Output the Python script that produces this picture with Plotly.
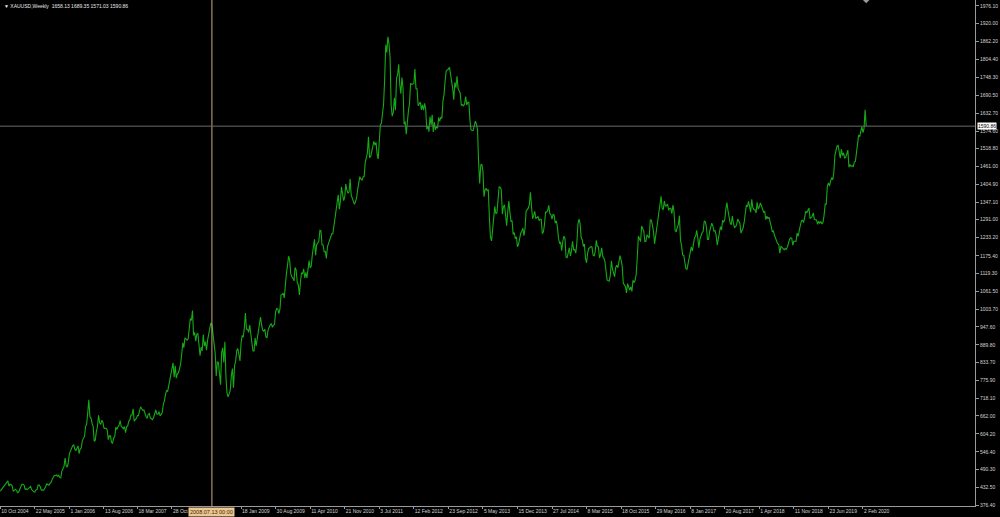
import pandas as pd
import plotly.graph_objects as go

# ---------------- data: weekly closes XAUUSD (bar dates are Sundays) ----------------
close_2004 = [421, 426, 429, 434, 438, 442, 450, 454, 437, 443, 442, 438]
close_2005 = [420, 423, 427, 423, 416, 418, 427, 435, 443, 443, 440, 427, 428,
              426, 429, 435, 436, 426, 421, 419, 418, 425, 426, 440, 440, 435,
              424, 423, 424, 428, 437, 444, 442, 440, 445, 449, 458, 468, 471,
              471, 473, 468, 472, 465, 463, 485, 496, 500, 527, 502, 498, 513]
close_2006 = [541, 550, 560, 566, 570, 555, 551, 557, 566, 541, 556, 559, 583,
              590, 597, 628, 636, 673, 714, 659, 655, 638, 628, 580, 585, 613,
              628, 664, 640, 635, 648, 642, 623, 622, 622, 618, 586, 598, 598,
              577, 575, 591, 596, 626, 618, 627, 632, 647, 628, 625, 621, 628, 608]
close_2007 = [627, 630, 645, 650, 665, 665, 685, 645, 650, 654, 663, 663, 679,
              691, 685, 680, 681, 666, 660, 654, 667, 670, 655, 653, 650, 657,
              666, 681, 668, 667, 676, 662, 667, 673, 700, 710, 732, 743, 741,
              759, 766, 788, 807, 832, 786, 823, 783, 797, 800, 811, 829, 859]
close_2008 = [896, 881, 912, 909, 905, 909, 945, 974, 968, 1000, 920, 930, 902,
              924, 926, 890, 855, 882, 871, 923, 886, 900, 873, 905, 925, 934,
              960, 955, 926, 911, 864, 790, 835, 833, 800, 762, 865, 880, 833,
              900, 786, 735, 723, 736, 744, 792, 814, 752, 823, 838, 872, 878]
close_2009 = [855, 838, 895, 920, 914, 942, 992, 940, 940, 930, 953, 925, 898,
              870, 870, 912, 886, 914, 929, 958, 979, 954, 937, 934, 940, 915,
              912, 937, 950, 954, 958, 946, 953, 955, 996, 1006, 1004, 990, 1004,
              1050, 1051, 1056, 1040, 1095, 1118, 1144, 1174, 1162, 1118, 1108, 1104, 1095]
close_2010 = [1138, 1130, 1091, 1082, 1050, 1092, 1120, 1118, 1133, 1104, 1122, 1104, 1125,
              1160, 1136, 1142, 1179, 1210, 1228, 1177, 1211, 1216, 1222, 1257, 1255, 1210,
              1210, 1188, 1189, 1167, 1204, 1215, 1227, 1235, 1246, 1246, 1275, 1296, 1318,
              1346, 1371, 1325, 1350, 1396, 1367, 1352, 1363, 1405, 1386, 1376, 1380, 1421]
close_2011 = [1370, 1360, 1344, 1340, 1349, 1361, 1388, 1410, 1429, 1421, 1418, 1428, 1429,
              1474, 1486, 1505, 1557, 1491, 1493, 1511, 1536, 1542, 1530, 1539, 1501, 1486,
              1542, 1594, 1601, 1626, 1662, 1742, 1852, 1827, 1877, 1856, 1813, 1658, 1623,
              1635, 1682, 1642, 1745, 1756, 1789, 1724, 1695, 1747, 1713, 1597, 1606, 1565]
close_2012 = [1617, 1640, 1663, 1728, 1725, 1725, 1727, 1774, 1711, 1711, 1656, 1662, 1668,
              1643, 1659, 1642, 1664, 1645, 1581, 1592, 1573, 1622, 1594, 1627, 1572, 1604,
              1579, 1590, 1584, 1619, 1606, 1620, 1616, 1672, 1692, 1737, 1768, 1772, 1773,
              1780, 1758, 1724, 1712, 1676, 1731, 1714, 1751, 1712, 1705, 1696, 1657, 1660, 1656]
close_2013 = [1662, 1686, 1659, 1667, 1667, 1610, 1579, 1577, 1577, 1592, 1607, 1597, 1580,
              1476, 1407, 1466, 1469, 1447, 1365, 1387, 1392, 1383, 1388, 1297, 1234, 1223,
              1278, 1296, 1334, 1310, 1313, 1371, 1396, 1395, 1387, 1309, 1333, 1339, 1310,
              1272, 1316, 1351, 1315, 1285, 1288, 1244, 1250, 1230, 1236, 1204, 1212, 1237]
close_2014 = [1248, 1254, 1264, 1240, 1262, 1318, 1324, 1328, 1339, 1379, 1335, 1294, 1304,
              1318, 1294, 1300, 1302, 1288, 1293, 1292, 1246, 1252, 1275, 1315, 1316, 1320,
              1337, 1310, 1307, 1293, 1309, 1305, 1280, 1287, 1268, 1231, 1216, 1218, 1192,
              1222, 1238, 1231, 1171, 1169, 1185, 1201, 1175, 1191, 1222, 1195, 1195, 1184]
close_2015 = [1216, 1277, 1293, 1279, 1234, 1227, 1205, 1213, 1167, 1153, 1184, 1199, 1201,
              1205, 1204, 1178, 1174, 1189, 1225, 1205, 1204, 1168, 1180, 1201, 1173, 1168,
              1157, 1131, 1098, 1095, 1094, 1113, 1159, 1133, 1121, 1108, 1138, 1145, 1137,
              1156, 1176, 1162, 1142, 1088, 1081, 1076, 1056, 1086, 1075, 1065, 1076, 1061]
close_2016 = [1097, 1090, 1097, 1117, 1173, 1238, 1230, 1221, 1271, 1259, 1254, 1221, 1222,
              1243, 1235, 1232, 1290, 1290, 1273, 1253, 1213, 1243, 1275, 1297, 1315, 1340,
              1366, 1327, 1323, 1351, 1335, 1336, 1341, 1321, 1327, 1328, 1310, 1338, 1316,
              1257, 1252, 1266, 1276, 1304, 1225, 1208, 1178, 1177, 1160, 1134, 1132, 1151]
close_2017 = [1173, 1197, 1204, 1190, 1220, 1234, 1237, 1257, 1234, 1201, 1229, 1244, 1249,
              1254, 1287, 1284, 1268, 1228, 1227, 1254, 1267, 1280, 1271, 1254, 1256, 1242,
              1209, 1228, 1254, 1269, 1258, 1289, 1284, 1291, 1325, 1346, 1320, 1297, 1280,
              1275, 1303, 1280, 1266, 1269, 1275, 1293, 1287, 1280, 1248, 1256, 1265, 1283, 1322]
close_2018 = [1338, 1333, 1350, 1333, 1315, 1356, 1330, 1323, 1323, 1313, 1347, 1325, 1332,
              1345, 1336, 1323, 1315, 1318, 1291, 1302, 1294, 1299, 1278, 1270, 1252, 1256,
              1241, 1231, 1223, 1214, 1212, 1184, 1206, 1201, 1197, 1194, 1199, 1196, 1203,
              1218, 1228, 1233, 1232, 1209, 1222, 1222, 1222, 1248, 1238, 1257, 1279, 1287]
close_2019 = [1289, 1282, 1298, 1318, 1313, 1322, 1328, 1294, 1298, 1302, 1313, 1292, 1291,
              1290, 1276, 1286, 1280, 1285, 1277, 1283, 1305, 1341, 1341, 1399, 1409, 1399,
              1415, 1426, 1419, 1440, 1497, 1513, 1527, 1529, 1507, 1488, 1517, 1497, 1505,
              1489, 1490, 1505, 1514, 1459, 1468, 1462, 1464, 1460, 1476, 1478, 1510, 1552]
close_2020 = [1562, 1557, 1571, 1589, 1570, 1584, 1643, 1590.86]

first_bar = {2004: "2004-10-10", 2005: "2005-01-02", 2006: "2006-01-01", 2007: "2007-01-07",
             2008: "2008-01-06", 2009: "2009-01-04", 2010: "2010-01-03", 2011: "2011-01-02",
             2012: "2012-01-01", 2013: "2013-01-06", 2014: "2014-01-05", 2015: "2015-01-04",
             2016: "2016-01-03", 2017: "2017-01-01", 2018: "2018-01-07", 2019: "2019-01-06",
             2020: "2020-01-05"}
closes = {2004: close_2004, 2005: close_2005, 2006: close_2006, 2007: close_2007,
          2008: close_2008, 2009: close_2009, 2010: close_2010, 2011: close_2011,
          2012: close_2012, 2013: close_2013, 2014: close_2014, 2015: close_2015,
          2016: close_2016, 2017: close_2017, 2018: close_2018, 2019: close_2019,
          2020: close_2020}

# axis labels (the 8 Jun 2008 label is hidden under the crosshair box in the reference)
x_tick_dates = ["2004-10-10", "2005-05-22", "2006-01-01", "2006-08-13", "2007-03-18",
                "2007-10-28", "2009-01-18", "2009-08-30", "2010-04-11",
                "2010-11-21", "2011-07-03", "2012-02-12", "2012-09-23", "2013-05-05",
                "2013-12-15", "2014-07-27", "2015-03-08", "2015-10-18", "2016-05-29",
                "2017-01-08", "2017-08-20", "2018-04-01", "2018-11-11", "2019-06-23",
                "2020-02-02"]
y_tick_values = [1976.10, 1920.00, 1862.20, 1804.40, 1748.30, 1690.50, 1632.70, 1574.60,
                 1518.80, 1461.00, 1404.90, 1347.10, 1291.00, 1233.20, 1175.40, 1119.30,
                 1061.50, 1003.70, 947.60, 889.80, 833.70, 775.90, 718.10, 662.00, 604.20,
                 546.40, 490.30, 432.50, 376.40]
last_ohlc = [1658.13, 1689.35, 1571.03, 1590.86]
symbol = "XAUUSD,Weekly"
crosshair_time = "2008-07-13"

# ---------------- build series ----------------
dates, values = [], []
for yr in sorted(closes):
    vals = closes[yr]
    d = pd.date_range(first_bar[yr], periods=len(vals), freq="7D")
    dates.extend(d)
    values.extend(vals)

start = pd.Timestamp("2004-10-10")
x_end = start + pd.Timedelta(days=7 * 975 / 1.08)
y_lo, y_hi = 373.2, 1995.3

font_fam = "Liberation Sans, DejaVu Sans, sans-serif"
txt_col = "#d4d4d4"
fs = 5

fig = go.Figure()
fig.add_trace(go.Scatter(x=dates, y=values, mode="lines",
                         line=dict(color="#16aa16", width=1.1),
                         hoverinfo="skip", showlegend=False))

tick_text = [pd.Timestamp(d).strftime("%-d %b %Y") for d in x_tick_dates]

fig.update_layout(
    width=1000, height=517,
    margin=dict(l=0, r=25, t=0, b=11, pad=0),
    paper_bgcolor="#000000", plot_bgcolor="#000000",
    font=dict(family=font_fam, size=fs, color=txt_col),
    xaxis=dict(type="date", range=[start - pd.Timedelta(days=2), x_end],
               showgrid=False, zeroline=False, showline=True, linecolor="#9a9a9a",
               linewidth=1, ticks="outside", ticklen=2, tickcolor="#9a9a9a",
               tickvals=x_tick_dates, ticktext=tick_text, tickangle=0,
               ticklabelposition="outside right", ticklabeloverflow="allow",
               tickfont=dict(size=fs, color=txt_col, family=font_fam),
               automargin=False, fixedrange=True),
    yaxis=dict(range=[y_lo, y_hi], side="right", showgrid=False, zeroline=False,
               showline=True, linecolor="#9a9a9a", linewidth=1,
               ticks="outside", ticklen=3, tickcolor="#9a9a9a",
               tickvals=y_tick_values, ticktext=[f"{v:.2f}" for v in y_tick_values],
               tickfont=dict(size=fs, color=txt_col, family=font_fam),
               automargin=False, fixedrange=True),
    showlegend=False,
)

# crosshair: vertical line at selected time, horizontal line at last close
fig.add_shape(type="line", xref="x", yref="paper", x0=crosshair_time, x1=crosshair_time,
              y0=0, y1=1, line=dict(color="#c8aa84", width=1))
fig.add_shape(type="line", xref="paper", yref="y", x0=0, x1=1,
              y0=values[-1], y1=values[-1], line=dict(color="#6a6a6a", width=1))

# last price label on the price axis
fig.add_annotation(xref="paper", yref="y", x=1.0, y=values[-1], xanchor="left",
                   yanchor="middle", text=f"{values[-1]:.2f}", showarrow=False,
                   bgcolor="#ffffff", font=dict(size=fs, color="#000000", family=font_fam),
                   borderpad=0, xshift=2)

# crosshair time label
fig.add_annotation(xref="x", yref="paper", x=crosshair_time, y=0, yanchor="top",
                   xanchor="center", text=pd.Timestamp(crosshair_time).strftime("%Y.%m.%d %H:%M"),
                   showarrow=False, bgcolor="#eec690",
                   font=dict(size=5.5, color="#3a2a10", family=font_fam),
                   borderpad=1, yshift=-1)

# header text
fig.add_annotation(xref="paper", yref="paper", x=0, y=1, xanchor="left", yanchor="top",
                   text="\u25BC " + symbol + "  " + " ".join(f"{v:.2f}" for v in last_ohlc),
                   showarrow=False, font=dict(size=fs, color="#e8e8e8", family=font_fam),
                   xshift=2, yshift=-1)

# small marker at top over the last bar
fig.add_trace(go.Scatter(x=[dates[-1]], y=[y_hi], mode="markers",
                         marker=dict(symbol="diamond", size=5, color="#9a9a9a"),
                         cliponaxis=False, hoverinfo="skip", showlegend=False))

fig.write_html("out.html", config={"displayModeBar": False, "staticPlot": True},
               post_script="document.body.style.margin='0';")
